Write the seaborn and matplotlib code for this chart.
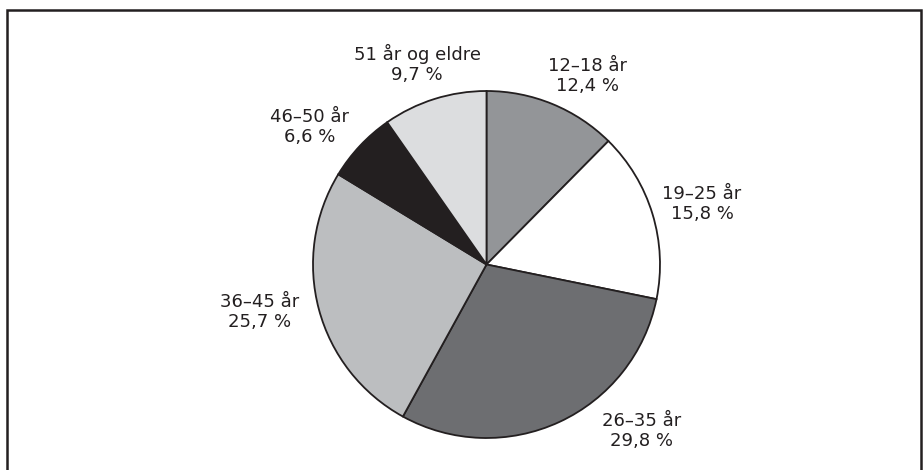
import matplotlib
matplotlib.use('Agg')
import matplotlib.pyplot as plt
import seaborn as sns
from matplotlib.patches import Rectangle

# share of players by age group
groups = ['12–18 år', '19–25 år', '26–35 år', '36–45 år', '46–50 år', '51 år og eldre']
shares = [12.4, 15.8, 29.8, 25.7, 6.6, 9.7]
colors = ['#939598', '#ffffff', '#6d6e71', '#bcbec0', '#231f20', '#dcdddf']

sns.set_theme(style='white')
plt.rcParams['font.family'] = ['DejaVu Sans']

fig = plt.figure(figsize=(9.24, 4.70), dpi=100)
ax = fig.add_axes([0, 0, 1, 1])

ax.pie(shares, colors=colors, startangle=90, counterclock=False,
       center=(486.5, 470 - 264.5), radius=173.5, frame=True,
       wedgeprops=dict(edgecolor='#231f20', linewidth=1.3))
ax.set_xlim(0, 924)
ax.set_ylim(0, 470)
ax.set_aspect('equal')
ax.axis('off')

# label spots (pixels from top-left)
label_pos = [(587, 76), (702, 204), (642, 431), (260, 312), (310, 127), (417, 64)]
for g, s, (x, y) in zip(groups, shares, label_pos):
    txt = f"{g}\n{str(s).replace('.', ',')} %"
    ax.text(x, 470 - y, txt, ha='center', va='center', fontsize=13,
            linespacing=1.13, color='#231f20')

# outer frame
ax.add_patch(Rectangle((7, -10), 914, 470, fill=False, edgecolor='#231f20',
                       linewidth=1.8, clip_on=False))

fig.savefig('out.png', dpi=100)
